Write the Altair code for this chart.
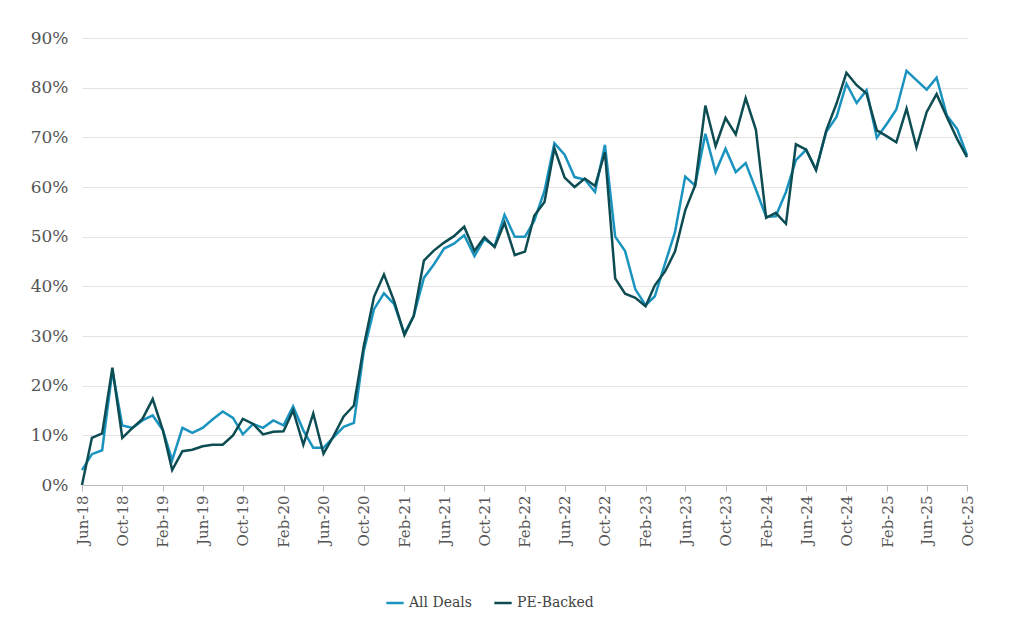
import pandas as pd
import altair as alt

all_deals = [
    3, 6.2, 7, 23, 12, 11.5, 13, 14, 11, 5, 11.5, 10.5, 11.5, 13.2, 14.8, 13.5,
    10.2, 12.3, 11.5, 13, 12, 15.8, 11, 7.5, 7.5, 9.6, 11.7, 12.5, 27, 35.4,
    38.6, 36.4, 30.5, 34, 41.7, 44.4, 47.6, 48.6, 50.3, 46.1, 49.5, 48.1, 54.4,
    50, 50, 53.2, 59.2, 68.8, 66.5, 62, 61.5, 59, 68.5, 50, 47.1, 39.4, 36.2,
    38, 44.6, 50.9, 62.1, 60.3, 70.7, 63, 67.7, 63, 64.8, 59.5, 54, 54.1, 59,
    65.4, 67.5, 63.5, 71.1, 74.1, 80.8, 76.9, 79.5, 69.9, 72.8, 75.6, 83.4,
    81.5, 79.6, 82, 74.4, 71.7, 66.4,
]
pe_backed = [
    0, 9.5, 10.4, 23.6, 9.5, 11.5, 13.3, 17.3, 11, 3, 6.8, 7.1, 7.8, 8.1, 8.1,
    10, 13.3, 12.3, 10.2, 10.7, 10.8, 15, 8.1, 14.4, 6.3, 9.8, 13.8, 16, 28,
    37.9, 42.4, 37, 30.2, 34, 45.2, 47.2, 48.8, 50.1, 52, 47.1, 49.9, 47.9,
    52.8, 46.3, 47, 54.2, 57, 67.8, 61.9, 60, 61.7, 60.2, 67, 41.6, 38.5, 37.7,
    36, 40.2, 43, 47, 55.3, 60.3, 76.4, 68.2, 73.9, 70.6, 77.9, 71.5, 53.8,
    54.8, 52.6, 68.6, 67.5, 63.4, 71.4, 76.8, 83, 80.5, 78.8, 71.4, 70.2, 69,
    75.8, 68, 75.1, 78.7, 74.1, 69.7, 66,
]
months = pd.date_range("2018-06-01", periods=len(all_deals), freq="MS")
tick_dates = [alt.DateTime(year=d.year, month=d.month, date=1) for d in months[::4]]

df = pd.concat([
    pd.DataFrame({"month": months, "value": [v / 100 for v in all_deals], "series": "All Deals"}),
    pd.DataFrame({"month": months, "value": [v / 100 for v in pe_backed], "series": "PE-Backed"}),
])

font = "DejaVu Serif"

chart = (
    alt.Chart(df)
    .mark_line(strokeWidth=2.5)
    .encode(
        x=alt.X(
            "month:T",
            title=None,
            scale=alt.Scale(domain=[months[0].isoformat(), months[-1].isoformat()], nice=False),
            axis=alt.Axis(
                values=tick_dates, format="%b-%y", labelAngle=-90, grid=False,
                labelFont=font, labelFontSize=15, labelColor="#555",
                domainColor="#bbb", tickColor="#bbb", tickSize=6, labelPadding=4,
            ),
        ),
        y=alt.Y(
            "value:Q",
            title=None,
            scale=alt.Scale(domain=[0, 0.9]),
            axis=alt.Axis(
                format=".0%", values=[i / 10 for i in range(10)], domain=False, ticks=False,
                labelFont=font, labelFontSize=17, labelColor="#555", labelPadding=14,
                gridColor="#e3e3e3",
            ),
        ),
        color=alt.Color(
            "series:N",
            scale=alt.Scale(domain=["All Deals", "PE-Backed"], range=["#1a93bf", "#0d4c52"]),
            legend=alt.Legend(
                title=None, orient="none", legendX=303, legendY=555,
                direction="horizontal", symbolType="stroke",
                symbolStrokeWidth=2.5, symbolSize=300, labelFont=font, labelFontSize=14,
                labelColor="#444", columnPadding=16,
            ),
        ),
    )
    .properties(width=885, height=447, padding={"top": 21, "left": 22, "right": 10, "bottom": 5})
    .configure_view(stroke=None)
)

chart.save("out.html", embed_options={"renderer": "svg", "actions": False})
